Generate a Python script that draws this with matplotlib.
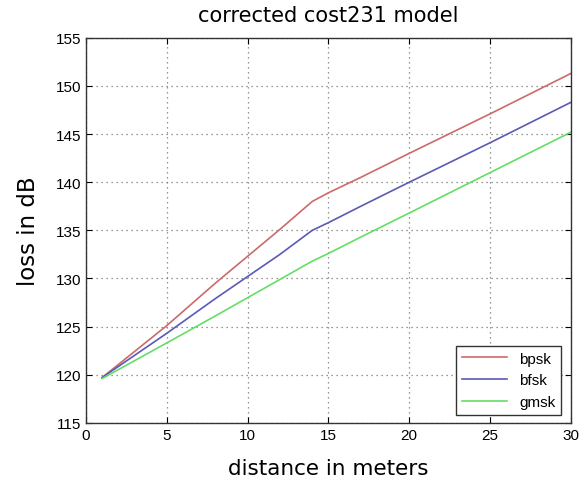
import matplotlib
matplotlib.use("Agg")
import matplotlib.pyplot as plt

# distance samples (m) and path loss (dB) for each modulation
distance = [1, 5, 8, 10, 12, 14, 15, 17, 20, 25, 30]
bpsk = [119.7, 125.1, 129.5, 132.3, 135.1, 138.0, 138.9, 140.5, 143.0, 147.1, 151.3]
bfsk = [119.7, 124.3, 127.9, 130.2, 132.5, 135.0, 135.8, 137.5, 140.0, 144.1, 148.3]
gmsk = [119.6, 123.3, 126.1, 128.0, 129.9, 131.8, 132.6, 134.3, 136.8, 141.0, 145.2]

xticks = [0, 5, 10, 15, 20, 25, 30]
yticks = [115, 120, 125, 130, 135, 140, 145, 150, 155]

plt.rcParams['font.family'] = ['Liberation Sans', 'DejaVu Sans']

fig = plt.figure(figsize=(5.88, 4.85), dpi=100)
ax = fig.add_axes([0.146, 0.126, 0.825, 0.794])

ax.plot(distance, bpsk, color='#cc6a6a', lw=1.2, label='bpsk')
ax.plot(distance, bfsk, color='#5a5ab8', lw=1.2, label='bfsk')
ax.plot(distance, gmsk, color='#66dd66', lw=1.2, label='gmsk')

ax.set_xlim(0, 30)
ax.set_ylim(115, 155)
ax.set_xticks(xticks)
ax.set_yticks(yticks)
ax.tick_params(direction='in', length=4, labelsize=11, top=True, right=True,
               labeltop=False, labelright=False)
ax.grid(True, linestyle=(0, (1, 3)), color='#777777', linewidth=0.9)
for s in ax.spines.values():
    s.set_linewidth(1.0)
    s.set_color('#333333')

label_font = dict(family='DejaVu Sans')
ax.set_title('corrected cost231 model', fontsize=15, pad=12, **label_font)
ax.set_xlabel('distance in meters', fontsize=15.5, labelpad=12, **label_font)
ax.set_ylabel('loss in dB', fontsize=16.5, labelpad=11, **label_font)

leg = ax.legend(loc='lower right', fontsize=11, frameon=True, fancybox=False,
                edgecolor='#333333', framealpha=1, handlelength=2.9,
                bbox_to_anchor=(0.98, 0.02), borderaxespad=0.0)
leg.get_frame().set_linewidth(1.0)

fig.savefig('out.png', dpi=100)
